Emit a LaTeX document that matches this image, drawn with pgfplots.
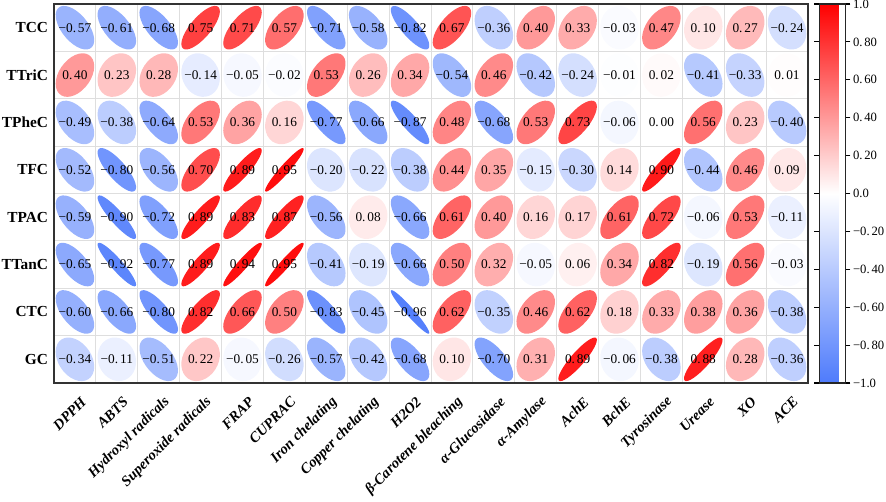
\documentclass[border=0pt]{standalone}
\usepackage{fontspec}
\setmainfont{Liberation Serif}
\usepackage{pgfplots}
\pgfplotsset{compat=1.18}

\def\corrlabelA#1#2\relax{\ifx-#1\def\next{−\splitdot#2\relax}\else\def\next{\splitdot#1#2\relax}\fi\next}
\def\splitdot#1.#2\relax{#1.\hspace{0.14em}#2}
\newcommand\corrlabel{\edef\tmplab{\rv}\expandafter\corrlabelA\tmplab\relax}
\newcommand\sd{\hspace{0.14em}}

% ellipse marker: axes along the cell diagonals, lengths from the correlation value \rv,
% colour taken from the axis colormap at \rv
\pgfdeclareplotmark{correll}{%
  \pgfmathsetmacro\sa{sqrt(1+(\rv))}%
  \pgfmathsetmacro\sb{sqrt(1-(\rv))}%
  \pgfmathsetmacro\ma{10.219*\sa}%
  \pgfmathsetmacro\mb{11.557*\sa}%
  \pgfmathsetmacro\mc{-10.219*\sb}%
  \pgfmathsetmacro\md{11.557*\sb}%
  \pgfmathtruncatemacro\cmv{round((1+(\rv))*500)}%
  \pgfplotscolormapdefinemappedcolor{\cmv}%
  \pgfsetfillcolor{mapped color}%
  \pgfpathellipse{\pgfpointorigin}{\pgfpoint{\ma pt}{\mb pt}}{\pgfpoint{\mc pt}{\md pt}}%
  \pgfusepathqfill}

\begin{document}
\begin{tikzpicture}
\useasboundingbox (-40.5pt,-89.25pt) rectangle (624pt,287.25pt);
\begin{axis}[
  at={(0pt,0pt)}, anchor=south west,
  width=565.5pt, height=284.25pt, scale only axis,
  xmin=-0.5, xmax=17.5, ymin=-0.5, ymax=7.5, y dir=reverse,
  xtick={0,...,17}, ytick={0,...,7},
  xticklabels={DPPH,ABTS,Hydroxyl radicals,Superoxide radicals,FRAP,CUPRAC,Iron chelating,Copper chelating,H2O2,β-Carotene bleaching,α-Glucosidase,α-Amylase,AchE,BchE,Tyrosinase,Urease,XO,ACE},
  yticklabels={TCC,TTriC,TPheC,TFC,TPAC,TTanC,CTC,GC},
  minor xtick={0.5,1.5,...,16.5}, minor ytick={0.5,1.5,...,6.5},
  xminorgrids, yminorgrids, minor grid style={black!13, line width=0.7pt},
  major tick length=0pt, minor tick length=0pt,
  axis line style={line width=1.3pt, black!80},
  xticklabel style={font=\fontsize{11}{13}\selectfont\bfseries\itshape, xshift=9pt, yshift=-10pt, rotate=45, anchor=east},
  yticklabel style={font=\fontsize{11.5}{13}\selectfont\bfseries, xshift=-1pt},
  colormap={corr}{rgb255=(78,123,252) rgb255=(255,255,255) rgb255=(255,0,0)},
  point meta min=-1, point meta max=1,
  colorbar,
  colorbar style={at={(parent axis.north east)}, anchor=north west, xshift=0pt,
    width=19.5pt,
    ytick={-1,-0.8,-0.6,-0.4,-0.2,0,0.2,0.4,0.6,0.8,1},
    yticklabels={−1.0,−0.\sd80,−0.\sd60,−0.\sd40,−0.\sd20,0.0,0.\sd20,0.\sd40,0.\sd60,0.\sd80,1.0},
    ytick align=outside, major tick length=3.75pt,
    tick style={black, line width=0.8pt},
    axis line style={line width=1.2pt, black!85},
    yticklabel style={font=\fontsize{9.5}{11}\selectfont, xshift=-1.5pt}},
  clip=false,
]
% x = column (DPPH ... ACE), y = row (TCC ... GC), r = correlation
\addplot[
  only marks, mark=correll,
  point meta=explicit,
  visualization depends on={value \thisrow{r} \as \rv},
  nodes near coords={\corrlabel},
  nodes near coords align=center,
  every node near coord/.append style={font=\fontsize{10}{12}\selectfont, text=black, inner sep=0pt},
] table[x=x, y=y, meta=r, row sep=\\] {
x y r\\
0 0 -0.57\\ 1 0 -0.61\\ 2 0 -0.68\\ 3 0 0.75\\ 4 0 0.71\\ 5 0 0.57\\ 6 0 -0.71\\ 7 0 -0.58\\ 8 0 -0.82\\ 9 0 0.67\\ 10 0 -0.36\\ 11 0 0.40\\ 12 0 0.33\\ 13 0 -0.03\\ 14 0 0.47\\ 15 0 0.10\\ 16 0 0.27\\ 17 0 -0.24\\
0 1 0.40\\ 1 1 0.23\\ 2 1 0.28\\ 3 1 -0.14\\ 4 1 -0.05\\ 5 1 -0.02\\ 6 1 0.53\\ 7 1 0.26\\ 8 1 0.34\\ 9 1 -0.54\\ 10 1 0.46\\ 11 1 -0.42\\ 12 1 -0.24\\ 13 1 -0.01\\ 14 1 0.02\\ 15 1 -0.41\\ 16 1 -0.33\\ 17 1 0.01\\
0 2 -0.49\\ 1 2 -0.38\\ 2 2 -0.64\\ 3 2 0.53\\ 4 2 0.36\\ 5 2 0.16\\ 6 2 -0.77\\ 7 2 -0.66\\ 8 2 -0.87\\ 9 2 0.48\\ 10 2 -0.68\\ 11 2 0.53\\ 12 2 0.73\\ 13 2 -0.06\\ 14 2 0.00\\ 15 2 0.56\\ 16 2 0.23\\ 17 2 -0.40\\
0 3 -0.52\\ 1 3 -0.80\\ 2 3 -0.56\\ 3 3 0.70\\ 4 3 0.89\\ 5 3 0.95\\ 6 3 -0.20\\ 7 3 -0.22\\ 8 3 -0.38\\ 9 3 0.44\\ 10 3 0.35\\ 11 3 -0.15\\ 12 3 -0.30\\ 13 3 0.14\\ 14 3 0.90\\ 15 3 -0.44\\ 16 3 0.46\\ 17 3 0.09\\
0 4 -0.59\\ 1 4 -0.90\\ 2 4 -0.72\\ 3 4 0.89\\ 4 4 0.83\\ 5 4 0.87\\ 6 4 -0.56\\ 7 4 0.08\\ 8 4 -0.66\\ 9 4 0.61\\ 10 4 0.40\\ 11 4 0.16\\ 12 4 0.17\\ 13 4 0.61\\ 14 4 0.72\\ 15 4 -0.06\\ 16 4 0.53\\ 17 4 -0.11\\
0 5 -0.65\\ 1 5 -0.92\\ 2 5 -0.77\\ 3 5 0.89\\ 4 5 0.94\\ 5 5 0.95\\ 6 5 -0.41\\ 7 5 -0.19\\ 8 5 -0.66\\ 9 5 0.50\\ 10 5 0.32\\ 11 5 -0.05\\ 12 5 0.06\\ 13 5 0.34\\ 14 5 0.82\\ 15 5 -0.19\\ 16 5 0.56\\ 17 5 -0.03\\
0 6 -0.60\\ 1 6 -0.66\\ 2 6 -0.80\\ 3 6 0.82\\ 4 6 0.66\\ 5 6 0.50\\ 6 6 -0.83\\ 7 6 -0.45\\ 8 6 -0.96\\ 9 6 0.62\\ 10 6 -0.35\\ 11 6 0.46\\ 12 6 0.62\\ 13 6 0.18\\ 14 6 0.33\\ 15 6 0.38\\ 16 6 0.36\\ 17 6 -0.38\\
0 7 -0.34\\ 1 7 -0.11\\ 2 7 -0.51\\ 3 7 0.22\\ 4 7 -0.05\\ 5 7 -0.26\\ 6 7 -0.57\\ 7 7 -0.42\\ 8 7 -0.68\\ 9 7 0.10\\ 10 7 -0.70\\ 11 7 0.31\\ 12 7 0.89\\ 13 7 -0.06\\ 14 7 -0.38\\ 15 7 0.88\\ 16 7 0.28\\ 17 7 -0.36\\
};
\end{axis}
\end{tikzpicture}
\end{document}
